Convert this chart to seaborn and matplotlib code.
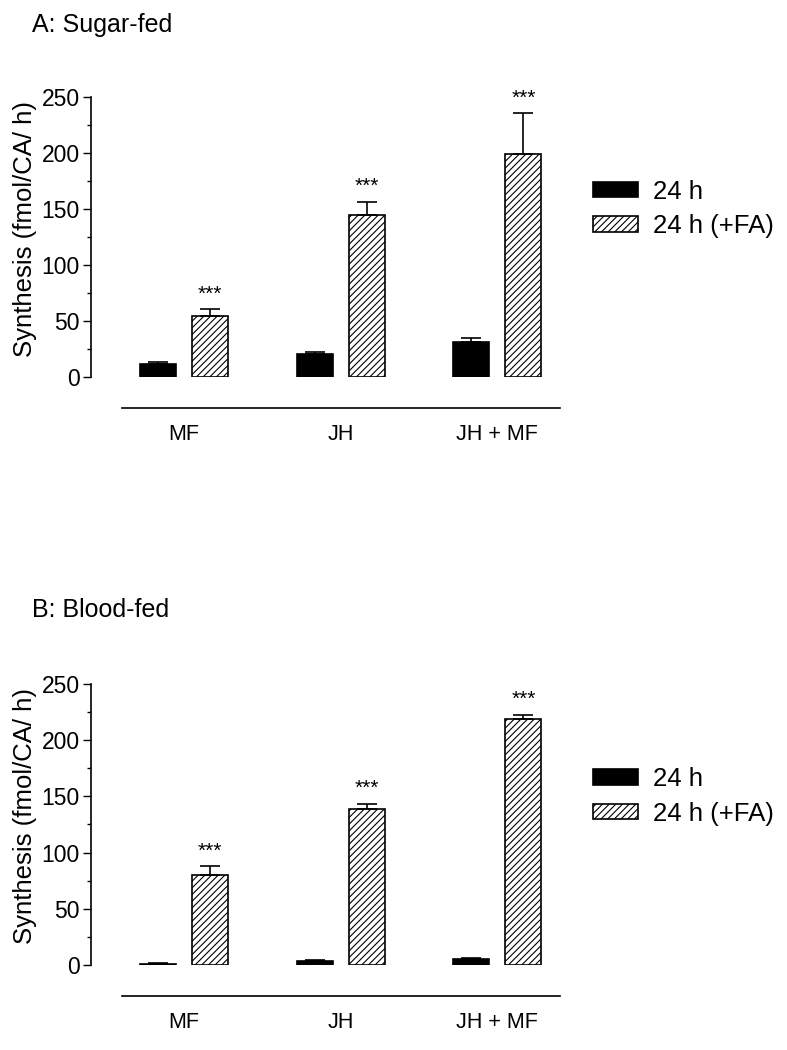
import matplotlib
matplotlib.use('Agg')
import numpy as np
import pandas as pd
import matplotlib.pyplot as plt
import seaborn as sns

groups = ['MF', 'JH', 'JH + MF']
series = ['24 h', '24 h (+FA)']

# panel A: sugar-fed
sugar_24h = [11.5, 20.5, 31.5]
sugar_24h_err = [2.0, 1.5, 3.3]
sugar_fa = [54.5, 144.5, 199.0]
sugar_fa_err = [6.0, 12.0, 36.5]

# panel B: blood-fed
blood_24h = [1.2, 3.5, 5.5]
blood_24h_err = [0.4, 0.6, 0.6]
blood_fa = [80.0, 138.5, 218.5]
blood_fa_err = [8.0, 5.0, 4.0]

stars = ['***', '***', '***']

sns.set_theme(style='ticks')
plt.rcParams['font.family'] = ['Liberation Sans', 'DejaVu Sans']
plt.rcParams['hatch.linewidth'] = 0.8
for k in ['text.color', 'axes.labelcolor', 'xtick.color', 'ytick.color', 'axes.edgecolor']:
    plt.rcParams[k] = 'black'


def make_df(v1, e1, v2, e2):
    rows = []
    for g, v, e in zip(groups, v1, e1):
        rows.append({'group': g, 'series': series[0], 'value': v, 'err': e})
    for g, v, e in zip(groups, v2, e2):
        rows.append({'group': g, 'series': series[1], 'value': v, 'err': e})
    return pd.DataFrame(rows)


def draw_panel(ax, df, title_y, title):
    sns.barplot(data=df, x='group', y='value', hue='series', order=groups,
                hue_order=series, width=0.664, gap=0.31, palette=['black', 'white'],
                edgecolor='black', linewidth=1.2, legend=False, ax=ax)
    # hatch the +FA bars
    for bar in ax.containers[1]:
        bar.set_hatch('/////')
        bar.set_facecolor('white')
    # one-sided error bars and stars
    for cont, s in zip(ax.containers, series):
        sub = df[df['series'] == s].set_index('group').loc[groups]
        xs = [b.get_x() + b.get_width() / 2 for b in cont]
        ax.errorbar(xs, sub['value'], yerr=[np.zeros(len(xs)), sub['err']],
                    fmt='none', ecolor='black', elinewidth=1.2, capsize=7,
                    capthick=1.2, zorder=1)
        if s == series[1]:
            for x, v, e, st in zip(xs, sub['value'], sub['err'], stars):
                ax.annotate(st, (x, v + e), xytext=(0, 4), textcoords='offset points',
                            ha='center', va='bottom', fontsize=15)
    ax.set_ylim(0, 250)
    ax.set_xlim(-0.594, 2.40)
    ax.set_yticks([0, 50, 100, 150, 200, 250])
    ax.set_yticks(np.arange(25, 250, 50), minor=True)
    ax.tick_params(axis='y', which='major', length=6, width=1, labelsize=16.5, pad=2)
    ax.tick_params(axis='y', which='minor', length=3, width=1)
    ax.tick_params(axis='x', length=0, labelsize=15.5, pad=12)
    ax.set_xlabel('')
    ax.set_ylabel('Synthesis (fmol/CA/ h)', fontsize=18.5, labelpad=3)
    ax.yaxis.label.set_y(0.53)
    sns.despine(ax=ax)
    ax.spines['left'].set_linewidth(1.2)
    ax.spines['bottom'].set_linewidth(1.2)
    ax.spines['bottom'].set_position(('outward', 22))
    ax.spines['bottom'].set_bounds(-0.396, 2.40)
    ax.legend(ax.containers, series, loc='center left', bbox_to_anchor=(1.07, 0.6),
              frameon=False, fontsize=18.5, handlelength=1.75, handleheight=0.55,
              borderpad=0, borderaxespad=0, handletextpad=0.6, labelspacing=0.42)
    ax.figure.text(32 / 787, title_y, title, fontsize=18, va='center')


fig = plt.figure(figsize=(7.87, 10.5), dpi=100)
axA = fig.add_axes([0.1156, 0.641, 0.596, 0.2667])
axB = fig.add_axes([0.1156, 0.081, 0.596, 0.2676])

draw_panel(axA, make_df(sugar_24h, sugar_24h_err, sugar_fa, sugar_fa_err),
           1 - 25 / 1050, 'A: Sugar-fed')
draw_panel(axB, make_df(blood_24h, blood_24h_err, blood_fa, blood_fa_err),
           1 - 610 / 1050, 'B: Blood-fed')

fig.savefig('out.png', dpi=100)
